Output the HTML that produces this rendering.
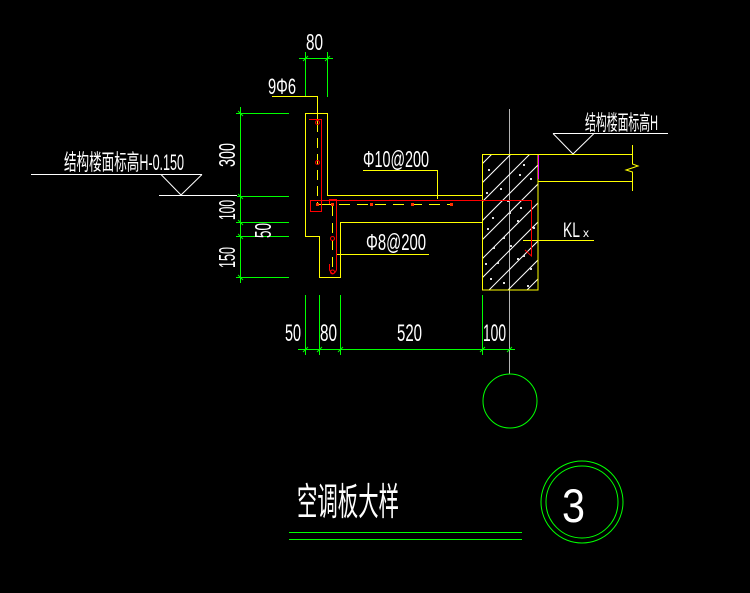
<!DOCTYPE html>
<html><head><meta charset="utf-8"><style>
html,body{margin:0;padding:0;background:#000;}
svg{display:block;}
text{font-family:"Liberation Sans","Noto Sans CJK SC",sans-serif;fill:#fff;}
</style></head><body>
<svg width="750" height="593" viewBox="0 0 750 593" xmlns="http://www.w3.org/2000/svg">
<defs>
<clipPath id="bm"><rect x="482" y="154" width="56" height="136"/></clipPath>
</defs>
<rect x="0" y="0" width="750" height="593" fill="#000"/>

<!-- gray axis -->
<line x1="509.5" y1="109" x2="509.5" y2="374" stroke="#b4b4b4" stroke-width="1"/>

<!-- beam hatching -->
<g clip-path="url(#bm)" stroke="#fff" stroke-width="1">
<line x1="430" y1="216" x2="520" y2="126"/>
<line x1="430" y1="235" x2="540" y2="125"/>
<line x1="430" y1="254" x2="560" y2="124"/>
<line x1="430" y1="273" x2="580" y2="123"/>
<line x1="430" y1="292" x2="600" y2="122"/>
<line x1="430" y1="311" x2="600" y2="141"/>
<line x1="430" y1="330" x2="600" y2="160"/>
<line x1="430" y1="349" x2="600" y2="179"/>
<line x1="430" y1="368" x2="600" y2="198"/>
<line x1="430" y1="387" x2="600" y2="217"/>
<line x1="430" y1="406" x2="600" y2="236"/>
</g>
<g fill="#e0e0e0">
<rect x="488" y="169" width="2" height="2"/><rect x="523" y="164" width="2" height="2"/>
<rect x="519" y="174" width="2" height="2"/><rect x="530" y="178" width="2" height="2"/>
<rect x="500" y="188" width="2" height="2"/><rect x="486" y="192" width="2" height="2"/>
<rect x="507" y="200" width="2" height="2"/><rect x="520" y="207" width="2" height="2"/>
<rect x="492" y="217" width="2" height="2"/><rect x="517" y="220" width="2" height="2"/>
<rect x="533" y="227" width="2" height="2"/><rect x="487" y="228" width="2" height="2"/>
<rect x="503" y="237" width="2" height="2"/><rect x="493" y="247" width="2" height="2"/>
<rect x="510" y="245" width="2" height="2"/><rect x="523" y="255" width="2" height="2"/>
<rect x="485" y="263" width="2" height="2"/><rect x="517" y="258" width="2" height="2"/>
<rect x="530" y="268" width="2" height="2"/><rect x="490" y="278" width="2" height="2"/>
<rect x="503" y="282" width="2" height="2"/><rect x="527" y="285" width="2" height="2"/>
<rect x="497" y="262" width="2" height="2"/><rect x="509" y="212" width="2" height="2"/>
</g>

<!-- yellow outlines -->
<g stroke="#ffff00" stroke-width="1" fill="none">
<polyline points="327.5,195.5 327.5,113.5 305.5,113.5 305.5,236.5 319.5,236.5 319.5,277.5 340.5,277.5 340.5,222.5 482,222.5"/>
<line x1="327" y1="195.5" x2="482" y2="195.5"/>
<rect x="482.5" y="154.5" width="55.5" height="135.5"/>
<line x1="538" y1="154.5" x2="632" y2="154.5"/>
<line x1="538" y1="181.5" x2="632" y2="181.5"/>
<polyline points="632.5,145 632.5,164 638,166 626,170 632.5,172 632.5,191"/>
<!-- leaders -->
<polyline points="272,96.5 317.5,96.5 317.5,122"/>
<polyline points="363,170.5 437.5,170.5 437.5,199"/>
<line x1="337" y1="254.5" x2="429" y2="254.5"/>
<line x1="523" y1="240.5" x2="594" y2="240.5"/>
<!-- dashed bars -->
<line x1="317.5" y1="122" x2="317.5" y2="204" stroke-dasharray="10 6"/>
<line x1="317" y1="204.5" x2="332" y2="204.5"/>
<line x1="332.5" y1="206" x2="332.5" y2="272" stroke-dasharray="10 7"/>
<line x1="339" y1="204.5" x2="451" y2="204.5" stroke-dasharray="11 7"/>
</g>
<line x1="538.5" y1="155" x2="538.5" y2="179" stroke="#ff00ff" stroke-width="1"/>

<!-- red rebars -->
<g stroke="#ff0000" stroke-width="1" fill="none">
<polyline points="309,119.5 321.5,119.5 321.5,211.5 310.5,211.5 310.5,200.5 531.5,200.5 531.5,256 525,250"/>
<polyline points="329.5,204 329.5,199.5 336.5,199.5 336.5,270"/>
<path d="M329.5,264 L329.5,270 Q333,277 336.5,270"/>
<circle cx="317.5" cy="122.5" r="2"/>
<circle cx="317.5" cy="162.5" r="2"/>
<circle cx="332.5" cy="238.5" r="2"/>
<circle cx="332.5" cy="272" r="2"/>
</g>
<g fill="#ff3000">
<rect x="316" y="203" width="3" height="3"/>
<rect x="331" y="203" width="3" height="3"/>
<rect x="370" y="203" width="3" height="3"/>
<rect x="411" y="203" width="3" height="3"/>
<rect x="450" y="203" width="3" height="3"/>
</g>

<!-- green dimensions -->
<g stroke="#00ff00" stroke-width="1" fill="none">
<!-- top 80 -->
<line x1="299" y1="58.5" x2="333" y2="58.5"/>
<line x1="305.5" y1="52" x2="305.5" y2="96"/>
<line x1="327.5" y1="52" x2="327.5" y2="97"/>
<line x1="303" y1="61" x2="308" y2="56"/>
<line x1="325" y1="61" x2="330" y2="56"/>
<!-- left chain -->
<line x1="240.5" y1="107" x2="240.5" y2="283"/>
<line x1="236" y1="113.5" x2="289" y2="113.5"/>
<line x1="237" y1="196.5" x2="289" y2="196.5"/>
<line x1="236" y1="222.5" x2="289" y2="222.5"/>
<line x1="236" y1="236.5" x2="289" y2="236.5"/>
<line x1="236" y1="277.5" x2="289" y2="277.5"/>
<line x1="238" y1="111" x2="243" y2="116"/>
<line x1="238" y1="194" x2="243" y2="199"/>
<line x1="238" y1="220" x2="243" y2="225"/>
<line x1="238" y1="234" x2="243" y2="239"/>
<line x1="238" y1="275" x2="243" y2="280"/>
<!-- bottom chain -->
<line x1="298" y1="349.5" x2="515" y2="349.5"/>
<line x1="305.5" y1="295" x2="305.5" y2="355"/>
<line x1="319.5" y1="295" x2="319.5" y2="355"/>
<line x1="340.5" y1="295" x2="340.5" y2="355"/>
<line x1="482.5" y1="295" x2="482.5" y2="355"/>
<line x1="303" y1="352" x2="308" y2="347"/>
<line x1="317" y1="352" x2="322" y2="347"/>
<line x1="338" y1="352" x2="343" y2="347"/>
<line x1="480" y1="352" x2="485" y2="347"/>
<line x1="507" y1="352" x2="512" y2="347"/>
<!-- axis circle -->
<circle cx="510" cy="401" r="27"/>
<!-- title lines -->
<line x1="289" y1="532.5" x2="522" y2="532.5"/>
<line x1="289" y1="539.5" x2="522" y2="539.5"/>
<circle cx="582" cy="502" r="41"/>
<circle cx="582" cy="502" r="36"/>
</g>

<!-- elevation marks -->
<g stroke="#fff" stroke-width="1" fill="none">
<line x1="31" y1="174.5" x2="202" y2="174.5"/>
<polyline points="161,174.5 181,195 202,174.5"/>
<line x1="159" y1="195.5" x2="237" y2="195.5"/>
<line x1="553" y1="133.5" x2="668" y2="133.5"/>
<polyline points="553,133.5 573,154 594,133.5"/>
</g>

<!-- texts -->
<text x="306" y="50" font-size="23" textLength="17" lengthAdjust="spacingAndGlyphs">80</text>
<text x="268" y="94" font-size="22" textLength="28" lengthAdjust="spacingAndGlyphs">9Φ6</text>
<text transform="translate(235,167) rotate(-90)" font-size="23" textLength="24" lengthAdjust="spacingAndGlyphs">300</text>
<text transform="translate(235,220) rotate(-90)" font-size="23" textLength="20" lengthAdjust="spacingAndGlyphs">100</text>
<text transform="translate(235,268) rotate(-90)" font-size="23" textLength="21" lengthAdjust="spacingAndGlyphs">150</text>
<text transform="translate(271,238) rotate(-90)" font-size="23" textLength="15" lengthAdjust="spacingAndGlyphs">50</text>
<text x="64" y="170" font-size="22" textLength="120" lengthAdjust="spacingAndGlyphs">结构楼面标高H-0.150</text>
<text x="585" y="130" font-size="21" textLength="73" lengthAdjust="spacingAndGlyphs">结构楼面标高H</text>
<text x="363" y="167" font-size="23" textLength="66" lengthAdjust="spacingAndGlyphs">Φ10@200</text>
<text x="366" y="250" font-size="23" textLength="60" lengthAdjust="spacingAndGlyphs">Φ8@200</text>
<text x="563" y="237" font-size="21" textLength="17" lengthAdjust="spacingAndGlyphs">KL</text>
<text x="583" y="237" font-size="12" textLength="6" lengthAdjust="spacingAndGlyphs">x</text>
<text x="285" y="341" font-size="24" textLength="16" lengthAdjust="spacingAndGlyphs">50</text>
<text x="320" y="341" font-size="24" textLength="17" lengthAdjust="spacingAndGlyphs">80</text>
<text x="397" y="341" font-size="24" textLength="25" lengthAdjust="spacingAndGlyphs">520</text>
<text x="483" y="341" font-size="24" textLength="23" lengthAdjust="spacingAndGlyphs">100</text>
<text x="297" y="515" font-size="38" textLength="102" lengthAdjust="spacingAndGlyphs">空调板大样</text>
<text x="562" y="522" font-size="47" textLength="23" lengthAdjust="spacingAndGlyphs">3</text>
</svg>
</body></html>
